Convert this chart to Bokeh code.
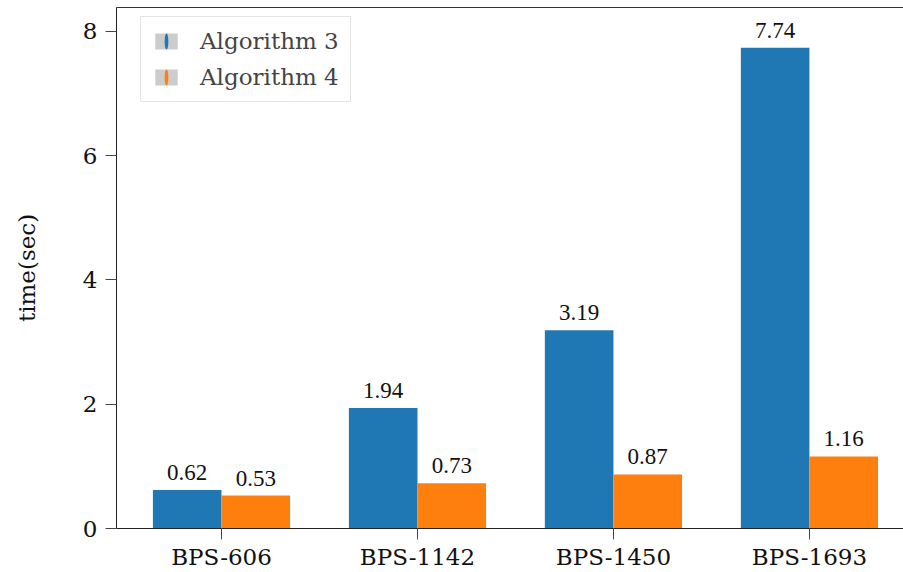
import numpy as np
from bokeh.plotting import figure
from bokeh.models import (ColumnDataSource, FixedTicker, LabelSet, Legend, LegendItem,
                          LinearAxis, Range1d)
from bokeh.embed import file_html
from bokeh.resources import INLINE

# ---- data ----
datasets = ["BPS-606", "BPS-1142", "BPS-1450", "BPS-1693"]
alg3 = [0.62, 1.94, 3.19, 7.74]
alg4 = [0.53, 0.73, 0.87, 1.16]
series_names = ["Algorithm 3", "Algorithm 4"]
series_colors = ["#1f77b4", "#ff7f0e"]
y_ticks = [0, 2, 4, 6, 8]

FONT = "DejaVu Serif"
BAR_W = 0.35

p = figure(width=903, height=572, output_backend="svg", toolbar_location=None,
           x_range=Range1d(-0.5357, 3.480), y_range=Range1d(0, 8.386),
           min_border_left=116, min_border_right=0, min_border_top=7,
           min_border_bottom=43)
p.outline_line_color = None
p.xgrid.visible = False
p.ygrid.visible = False

xpos = np.arange(len(datasets))
for k, (vals, col) in enumerate(zip([alg3, alg4], series_colors)):
    off = (k - 0.5) * BAR_W
    src = ColumnDataSource(dict(x=xpos + off, top=vals,
                                lab=["%.2f" % v for v in vals]))
    p.vbar(x="x", top="top", width=BAR_W, source=src, fill_color=col,
           line_color=None)
    p.add_layout(LabelSet(x="x", y="top", text="lab", source=src,
                          text_align="center", text_baseline="alphabetic",
                          y_offset=10, text_font=FONT, text_font_size="23px",
                          text_color="#111111"))

# axes
for ax in (p.xaxis[0], p.yaxis[0]):
    ax.major_label_text_font = FONT
    ax.major_label_text_font_size = "23px"
    ax.major_label_text_color = "#111111"
    ax.major_tick_out = 11
    ax.major_tick_in = 0
    ax.minor_tick_line_color = None
    ax.major_tick_line_color = "#444444"
    ax.axis_line_color = "#222222"

p.xaxis.ticker = FixedTicker(ticks=list(xpos))
p.xaxis.major_label_overrides = {int(i): d for i, d in zip(xpos, datasets)}
p.xaxis.major_label_standoff = 4
p.yaxis.ticker = FixedTicker(ticks=y_ticks)
p.yaxis.major_label_standoff = 8
p.yaxis.axis_label = "time(sec)"
p.yaxis.axis_label_text_font = FONT
p.yaxis.axis_label_text_font_size = "23px"
p.yaxis.axis_label_text_font_style = "normal"
p.yaxis.axis_label_text_color = "#111111"
p.yaxis.axis_label_standoff = 40

top_axis = LinearAxis(ticker=FixedTicker(ticks=[]), axis_line_color="#333333",
                      major_tick_line_color=None, minor_tick_line_color=None,
                      major_label_text_font_size="0px")
p.add_layout(top_axis, "above")

# legend (proxy renderers placed outside the visible range)
items = []
for name, col in zip(series_names, series_colors):
    proxy = ColumnDataSource(dict(x=[-100.0], top=[0.0]))
    r_box = p.vbar(x="x", top="top", width=0.1, source=proxy,
                   fill_color="#cccccc", line_color=None)
    r_bar = p.ellipse(x="x", y="top", width=3, height=13, width_units="screen",
                      height_units="screen", source=proxy, fill_color=col,
                      line_color=None)
    items.append(LegendItem(label=name, renderers=[r_box, r_bar], index=0))

legend = Legend(items=items, location=(24, 426), glyph_width=28, glyph_height=20,
                label_height=24, spacing=10, padding=11, label_standoff=20,
                label_text_font=FONT, label_text_font_size="23px",
                label_text_color="#444444", border_line_color="#cccccc",
                border_line_width=1, background_fill_color="white",
                background_fill_alpha=0.8)
p.add_layout(legend, "center")

open("out.html", "w").write(file_html(p, INLINE))
